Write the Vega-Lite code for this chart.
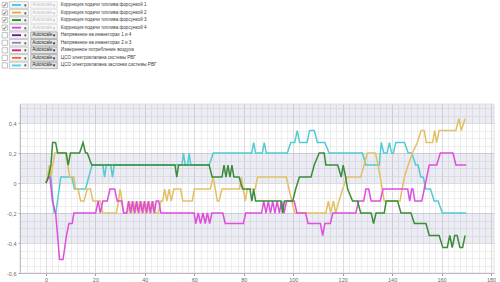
{
  "$schema": "https://vega.github.io/schema/vega-lite/v6.json",
  "padding": 0,
  "background": "white",
  "spacing": 7,
  "config": {"font": "Liberation Sans", "view": {"stroke": null}},
  "datasets": {
    "legend": [
      {"row": 1, "label": "Коррекция подачи топлива форсункой 1", "color": "#3fc4dc", "on": true},
      {"row": 2, "label": "Коррекция подачи топлива форсункой 2", "color": "#f2a53a", "on": true},
      {"row": 3, "label": "Коррекция подачи топлива форсункой 3", "color": "#1f8a1f", "on": true},
      {"row": 4, "label": "Коррекция подачи топлива форсункой 4", "color": "#d63ee6", "on": true},
      {"row": 5, "label": "Напряжение на инжекторах 1 и 4", "color": "#5a1e8c", "on": false},
      {"row": 6, "label": "Напряжение на инжекторах 2 и 3", "color": "#8f80c4", "on": false},
      {"row": 7, "label": "Измеренное потребление воздуха", "color": "#d0207a", "on": false},
      {"row": 8, "label": "ЦСО электроклапана системы РВГ", "color": "#ee6a24", "on": false},
      {"row": 9, "label": "ЦСО электроклапана заслонки системы РВГ", "color": "#4cd6ee", "on": false}
    ],
    "lines": [
      {"s":1,"x":0,"v":0},{"s":1,"x":1,"v":0.04},{"s":1,"x":2,"v":0.04},{"s":1,"x":3.3,"v":-0.2},{"s":1,"x":4,"v":-0.2},{"s":1,"x":6,"v":0.04},{"s":1,"x":10.5,"v":0.04},{"s":1,"x":11.5,"v":-0.04},{"s":1,"x":16,"v":-0.04},{"s":1,"x":17.3,"v":0.04},{"s":1,"x":18.7,"v":0.12},{"s":1,"x":23,"v":0.12},{"s":1,"x":23.7,"v":0.04},{"s":1,"x":24.4,"v":0.12},{"s":1,"x":26.2,"v":0.12},{"s":1,"x":26.9,"v":0.04},{"s":1,"x":27.6,"v":0.12},{"s":1,"x":55,"v":0.12},{"s":1,"x":55.6,"v":0.2},{"s":1,"x":56.3,"v":0.12},{"s":1,"x":57.3,"v":0.12},{"s":1,"x":57.9,"v":0.2},{"s":1,"x":58.6,"v":0.12},{"s":1,"x":66,"v":0.12},{"s":1,"x":67.7,"v":0.2},{"s":1,"x":83.2,"v":0.2},{"s":1,"x":84,"v":0.27},{"s":1,"x":84.8,"v":0.2},{"s":1,"x":87.5,"v":0.2},{"s":1,"x":88.3,"v":0.27},{"s":1,"x":89.1,"v":0.2},{"s":1,"x":97.6,"v":0.2},{"s":1,"x":99,"v":0.27},{"s":1,"x":100.6,"v":0.27},{"s":1,"x":101.6,"v":0.35},{"s":1,"x":102.6,"v":0.27},{"s":1,"x":105.6,"v":0.27},{"s":1,"x":106.6,"v":0.35},{"s":1,"x":108.5,"v":0.35},{"s":1,"x":109.8,"v":0.27},{"s":1,"x":112.8,"v":0.27},{"s":1,"x":114.5,"v":0.2},{"s":1,"x":128,"v":0.2},{"s":1,"x":129.4,"v":0.12},{"s":1,"x":134.8,"v":0.12},{"s":1,"x":135.6,"v":0.27},{"s":1,"x":136.6,"v":0.2},{"s":1,"x":138,"v":0.2},{"s":1,"x":138.9,"v":0.27},{"s":1,"x":139.8,"v":0.2},{"s":1,"x":140.5,"v":0.2},{"s":1,"x":141.5,"v":0.27},{"s":1,"x":145,"v":0.27},{"s":1,"x":146.5,"v":0.2},{"s":1,"x":148,"v":0.2},{"s":1,"x":149.5,"v":0.12},{"s":1,"x":150.5,"v":0.12},{"s":1,"x":151.6,"v":0.04},{"s":1,"x":152.6,"v":0.04},{"s":1,"x":153.6,"v":-0.04},{"s":1,"x":155.5,"v":-0.04},{"s":1,"x":157,"v":-0.12},{"s":1,"x":158.6,"v":-0.12},{"s":1,"x":160.3,"v":-0.2},{"s":1,"x":170,"v":-0.2},
      {"s":2,"x":0,"v":0},{"s":2,"x":0.7,"v":0.04},{"s":2,"x":1.3,"v":0.12},{"s":2,"x":2,"v":0.04},{"s":2,"x":2.8,"v":0.12},{"s":2,"x":3.6,"v":0.2},{"s":2,"x":8,"v":0.2},{"s":2,"x":9.6,"v":0.04},{"s":2,"x":11.3,"v":0.04},{"s":2,"x":12,"v":-0.04},{"s":2,"x":13,"v":-0.04},{"s":2,"x":14,"v":-0.12},{"s":2,"x":15.4,"v":-0.12},{"s":2,"x":16.7,"v":-0.04},{"s":2,"x":18,"v":-0.04},{"s":2,"x":19,"v":-0.12},{"s":2,"x":22,"v":-0.12},{"s":2,"x":23,"v":-0.2},{"s":2,"x":28.5,"v":-0.2},{"s":2,"x":29.3,"v":-0.12},{"s":2,"x":30,"v":-0.04},{"s":2,"x":30.8,"v":-0.12},{"s":2,"x":31.5,"v":-0.2},{"s":2,"x":33,"v":-0.2},{"s":2,"x":33.8,"v":-0.12},{"s":2,"x":34.6,"v":-0.2},{"s":2,"x":35.4,"v":-0.12},{"s":2,"x":36.2,"v":-0.2},{"s":2,"x":37,"v":-0.12},{"s":2,"x":37.8,"v":-0.2},{"s":2,"x":38.6,"v":-0.12},{"s":2,"x":39.4,"v":-0.2},{"s":2,"x":40.2,"v":-0.12},{"s":2,"x":41,"v":-0.2},{"s":2,"x":41.8,"v":-0.12},{"s":2,"x":42.6,"v":-0.2},{"s":2,"x":43.4,"v":-0.12},{"s":2,"x":44.2,"v":-0.2},{"s":2,"x":45.5,"v":-0.2},{"s":2,"x":46.5,"v":-0.12},{"s":2,"x":47.2,"v":-0.12},{"s":2,"x":48,"v":-0.04},{"s":2,"x":48.9,"v":-0.12},{"s":2,"x":49.8,"v":-0.04},{"s":2,"x":50.7,"v":-0.12},{"s":2,"x":51.7,"v":-0.04},{"s":2,"x":54.5,"v":-0.04},{"s":2,"x":55.3,"v":-0.12},{"s":2,"x":59.2,"v":-0.12},{"s":2,"x":60,"v":-0.04},{"s":2,"x":66.5,"v":-0.04},{"s":2,"x":67.6,"v":0.04},{"s":2,"x":68.5,"v":-0.04},{"s":2,"x":69.3,"v":-0.12},{"s":2,"x":70,"v":-0.12},{"s":2,"x":71.2,"v":-0.04},{"s":2,"x":78.3,"v":-0.04},{"s":2,"x":79,"v":0.04},{"s":2,"x":79.8,"v":-0.04},{"s":2,"x":80.6,"v":-0.12},{"s":2,"x":81.4,"v":-0.04},{"s":2,"x":84.6,"v":-0.04},{"s":2,"x":85.6,"v":0.04},{"s":2,"x":97.2,"v":0.04},{"s":2,"x":98.3,"v":-0.04},{"s":2,"x":99.4,"v":-0.12},{"s":2,"x":100.6,"v":-0.2},{"s":2,"x":113.2,"v":-0.2},{"s":2,"x":114.2,"v":-0.12},{"s":2,"x":115.1,"v":-0.2},{"s":2,"x":116.3,"v":-0.12},{"s":2,"x":117.2,"v":-0.2},{"s":2,"x":118.5,"v":-0.12},{"s":2,"x":120,"v":-0.04},{"s":2,"x":121.7,"v":0.04},{"s":2,"x":127.3,"v":0.04},{"s":2,"x":128.7,"v":0.12},{"s":2,"x":130,"v":0.2},{"s":2,"x":133.3,"v":0.2},{"s":2,"x":134.3,"v":0.12},{"s":2,"x":135.2,"v":0.04},{"s":2,"x":136,"v":-0.04},{"s":2,"x":136.8,"v":-0.12},{"s":2,"x":143.2,"v":-0.12},{"s":2,"x":144,"v":-0.04},{"s":2,"x":145,"v":0.04},{"s":2,"x":146.5,"v":0.12},{"s":2,"x":148.2,"v":0.2},{"s":2,"x":150.2,"v":0.27},{"s":2,"x":151.7,"v":0.35},{"s":2,"x":153,"v":0.35},{"s":2,"x":153.8,"v":0.27},{"s":2,"x":156.4,"v":0.27},{"s":2,"x":157.2,"v":0.35},{"s":2,"x":158,"v":0.27},{"s":2,"x":159,"v":0.35},{"s":2,"x":165.8,"v":0.35},{"s":2,"x":167,"v":0.43},{"s":2,"x":168,"v":0.35},{"s":2,"x":169.5,"v":0.43},
      {"s":4,"x":0,"v":0},{"s":4,"x":1,"v":0.04},{"s":4,"x":1.6,"v":0.04},{"s":4,"x":2.6,"v":-0.12},{"s":4,"x":3.9,"v":-0.2},{"s":4,"x":4.7,"v":-0.35},{"s":4,"x":5.5,"v":-0.51},{"s":4,"x":6.9,"v":-0.51},{"s":4,"x":8.3,"v":-0.35},{"s":4,"x":9.3,"v":-0.27},{"s":4,"x":10.6,"v":-0.27},{"s":4,"x":11.3,"v":-0.2},{"s":4,"x":20.1,"v":-0.2},{"s":4,"x":21.1,"v":-0.12},{"s":4,"x":22,"v":-0.2},{"s":4,"x":23,"v":-0.12},{"s":4,"x":24.8,"v":-0.12},{"s":4,"x":25.9,"v":-0.04},{"s":4,"x":27.8,"v":-0.04},{"s":4,"x":28.8,"v":-0.12},{"s":4,"x":30.6,"v":-0.12},{"s":4,"x":31.4,"v":-0.2},{"s":4,"x":32.6,"v":-0.2},{"s":4,"x":33.4,"v":-0.12},{"s":4,"x":34.2,"v":-0.2},{"s":4,"x":35,"v":-0.12},{"s":4,"x":35.8,"v":-0.2},{"s":4,"x":36.6,"v":-0.12},{"s":4,"x":37.4,"v":-0.2},{"s":4,"x":38.2,"v":-0.12},{"s":4,"x":39,"v":-0.2},{"s":4,"x":39.8,"v":-0.12},{"s":4,"x":40.6,"v":-0.2},{"s":4,"x":41.4,"v":-0.12},{"s":4,"x":42.2,"v":-0.2},{"s":4,"x":43,"v":-0.12},{"s":4,"x":43.8,"v":-0.2},{"s":4,"x":44.6,"v":-0.12},{"s":4,"x":45.6,"v":-0.12},{"s":4,"x":46.5,"v":-0.2},{"s":4,"x":59.9,"v":-0.2},{"s":4,"x":60.6,"v":-0.27},{"s":4,"x":61.6,"v":-0.2},{"s":4,"x":62.5,"v":-0.27},{"s":4,"x":63.5,"v":-0.2},{"s":4,"x":64.4,"v":-0.27},{"s":4,"x":65.3,"v":-0.2},{"s":4,"x":66.2,"v":-0.27},{"s":4,"x":67.1,"v":-0.2},{"s":4,"x":71.5,"v":-0.2},{"s":4,"x":72.5,"v":-0.27},{"s":4,"x":79.8,"v":-0.27},{"s":4,"x":80.8,"v":-0.2},{"s":4,"x":87.2,"v":-0.2},{"s":4,"x":88.1,"v":-0.12},{"s":4,"x":89,"v":-0.2},{"s":4,"x":89.9,"v":-0.12},{"s":4,"x":90.8,"v":-0.2},{"s":4,"x":91.7,"v":-0.12},{"s":4,"x":92.6,"v":-0.2},{"s":4,"x":93.5,"v":-0.12},{"s":4,"x":94.4,"v":-0.2},{"s":4,"x":95.3,"v":-0.12},{"s":4,"x":96.3,"v":-0.2},{"s":4,"x":97.3,"v":-0.12},{"s":4,"x":100.4,"v":-0.12},{"s":4,"x":101.5,"v":-0.2},{"s":4,"x":105,"v":-0.2},{"s":4,"x":106,"v":-0.27},{"s":4,"x":111,"v":-0.27},{"s":4,"x":111.9,"v":-0.35},{"s":4,"x":112.8,"v":-0.27},{"s":4,"x":115,"v":-0.27},{"s":4,"x":116,"v":-0.2},{"s":4,"x":125.3,"v":-0.2},{"s":4,"x":126.5,"v":-0.12},{"s":4,"x":128.5,"v":-0.12},{"s":4,"x":129.4,"v":-0.04},{"s":4,"x":130.5,"v":-0.04},{"s":4,"x":131.5,"v":-0.12},{"s":4,"x":135.2,"v":-0.12},{"s":4,"x":136.3,"v":-0.04},{"s":4,"x":146.3,"v":-0.04},{"s":4,"x":147.1,"v":-0.12},{"s":4,"x":147.9,"v":-0.04},{"s":4,"x":148.4,"v":-0.04},{"s":4,"x":149.2,"v":-0.12},{"s":4,"x":152,"v":-0.12},{"s":4,"x":153,"v":-0.04},{"s":4,"x":154,"v":0.04},{"s":4,"x":155,"v":0.12},{"s":4,"x":158,"v":0.12},{"s":4,"x":159.5,"v":0.2},{"s":4,"x":164.6,"v":0.2},{"s":4,"x":165.8,"v":0.12},{"s":4,"x":170,"v":0.12},
      {"s":3,"x":0,"v":0},{"s":3,"x":1,"v":0.04},{"s":3,"x":2,"v":0.12},{"s":3,"x":2.7,"v":0.27},{"s":3,"x":3.9,"v":0.27},{"s":3,"x":4.7,"v":0.2},{"s":3,"x":8.2,"v":0.2},{"s":3,"x":9,"v":0.12},{"s":3,"x":9.9,"v":0.2},{"s":3,"x":13.6,"v":0.2},{"s":3,"x":15,"v":0.27},{"s":3,"x":16,"v":0.2},{"s":3,"x":16.7,"v":0.2},{"s":3,"x":18.5,"v":0.12},{"s":3,"x":52.2,"v":0.12},{"s":3,"x":52.9,"v":0.04},{"s":3,"x":53.6,"v":0.12},{"s":3,"x":66,"v":0.12},{"s":3,"x":67.2,"v":0.04},{"s":3,"x":71.2,"v":0.04},{"s":3,"x":72,"v":0.12},{"s":3,"x":72.8,"v":0.04},{"s":3,"x":73.6,"v":0.12},{"s":3,"x":74.4,"v":0.04},{"s":3,"x":75.2,"v":0.12},{"s":3,"x":76,"v":0.04},{"s":3,"x":78.1,"v":0.04},{"s":3,"x":79.5,"v":-0.04},{"s":3,"x":82.5,"v":-0.04},{"s":3,"x":83.3,"v":-0.12},{"s":3,"x":84,"v":-0.04},{"s":3,"x":84.8,"v":-0.12},{"s":3,"x":95,"v":-0.12},{"s":3,"x":95.7,"v":-0.2},{"s":3,"x":96.4,"v":-0.12},{"s":3,"x":99.8,"v":-0.12},{"s":3,"x":101,"v":-0.04},{"s":3,"x":102.5,"v":0.04},{"s":3,"x":107.2,"v":0.04},{"s":3,"x":108.5,"v":0.12},{"s":3,"x":110.5,"v":0.2},{"s":3,"x":112.5,"v":0.2},{"s":3,"x":113.2,"v":0.12},{"s":3,"x":118,"v":0.12},{"s":3,"x":119.4,"v":0.04},{"s":3,"x":120.2,"v":0.12},{"s":3,"x":121.2,"v":0.04},{"s":3,"x":122,"v":-0.04},{"s":3,"x":124,"v":-0.12},{"s":3,"x":126,"v":-0.12},{"s":3,"x":127.3,"v":-0.2},{"s":3,"x":131.5,"v":-0.2},{"s":3,"x":132.5,"v":-0.27},{"s":3,"x":133.5,"v":-0.2},{"s":3,"x":136.8,"v":-0.2},{"s":3,"x":137.6,"v":-0.12},{"s":3,"x":142.2,"v":-0.12},{"s":3,"x":143.6,"v":-0.2},{"s":3,"x":147.6,"v":-0.2},{"s":3,"x":149,"v":-0.27},{"s":3,"x":153.7,"v":-0.27},{"s":3,"x":155,"v":-0.35},{"s":3,"x":159,"v":-0.35},{"s":3,"x":160.5,"v":-0.43},{"s":3,"x":162.3,"v":-0.43},{"s":3,"x":163.3,"v":-0.35},{"s":3,"x":164.3,"v":-0.43},{"s":3,"x":165.3,"v":-0.35},{"s":3,"x":166.3,"v":-0.35},{"s":3,"x":167.4,"v":-0.43},{"s":3,"x":168.5,"v":-0.43},{"s":3,"x":169.5,"v":-0.35}
    ]
  },
  "vconcat": [
    {
      "width": 474,
      "height": 96,
      "data": {"name": "legend"},
      "encoding": {
        "y": {"field": "row", "type": "quantitative", "scale": {"domain": [0.338, 13.05], "nice": false, "zero": false, "reverse": true}, "axis": null}
      },
      "layer": [
        {
          "mark": {"type": "square", "size": 28, "filled": true, "fill": "#fcfcfc", "stroke": "#9a9a9a", "strokeWidth": 0.6, "opacity": 1},
          "encoding": {"x": {"datum": 5.8, "type": "quantitative", "scale": {"domain": [21, 495], "nice": false, "zero": false}, "axis": null}}
        },
        {
          "transform": [{"filter": "datum.on"}],
          "mark": {"type": "text", "text": "✓", "fontSize": 6, "fill": "#2a2a2a", "fontWeight": "bold", "baseline": "middle", "align": "center", "font": "DejaVu Sans"},
          "encoding": {"x": {"datum": 6, "type": "quantitative", "scale": {"domain": [21, 495], "nice": false, "zero": false}, "axis": null}}
        },
        {
          "mark": {"type": "tick", "orient": "horizontal", "size": 19, "thickness": 6.5, "fill": "#f7f7f7", "stroke": "#ababab", "strokeWidth": 0.6, "opacity": 1},
          "encoding": {"x": {"datum": 19.8, "type": "quantitative", "scale": {"domain": [21, 495], "nice": false, "zero": false}, "axis": null}}
        },
        {
          "mark": {"type": "tick", "orient": "horizontal", "size": 9, "thickness": 1.8, "opacity": 1},
          "encoding": {
            "x": {"datum": 17.5, "type": "quantitative", "scale": {"domain": [21, 495], "nice": false, "zero": false}, "axis": null},
            "color": {"field": "color", "type": "nominal", "scale": null}
          }
        },
        {
          "mark": {"type": "text", "text": "▾", "fontSize": 5, "fill": "#444", "baseline": "middle", "align": "center", "font": "DejaVu Sans"},
          "encoding": {"x": {"datum": 26.3, "type": "quantitative", "scale": {"domain": [21, 495], "nice": false, "zero": false}, "axis": null}}
        },
        {
          "mark": {"type": "tick", "orient": "horizontal", "size": 26.5, "thickness": 6.5, "strokeWidth": 0.6, "opacity": 1},
          "encoding": {
            "x": {"datum": 45, "type": "quantitative", "scale": {"domain": [21, 495], "nice": false, "zero": false}, "axis": null},
            "fill": {"condition": {"test": "datum.on", "value": "#fafafa"}, "value": "#e6e6e6"},
            "stroke": {"condition": {"test": "datum.on", "value": "#d4d4d4"}, "value": "#8c8c8c"}
          }
        },
        {
          "mark": {"type": "text", "text": "Autoscale", "fontSize": 4.6, "baseline": "middle", "align": "left"},
          "encoding": {
            "x": {"datum": 33.2, "type": "quantitative", "scale": {"domain": [21, 495], "nice": false, "zero": false}, "axis": null},
            "color": {"condition": {"test": "datum.on", "value": "#c2c2c2"}, "value": "#1e1e1e"}
          }
        },
        {
          "mark": {"type": "text", "text": "▾", "fontSize": 5, "baseline": "middle", "align": "center", "font": "DejaVu Sans"},
          "encoding": {
            "x": {"datum": 55, "type": "quantitative", "scale": {"domain": [21, 495], "nice": false, "zero": false}, "axis": null},
            "color": {"condition": {"test": "datum.on", "value": "#c2c2c2"}, "value": "#1e1e1e"}
          }
        },
        {
          "mark": {"type": "text", "fontSize": 4.6, "baseline": "middle", "align": "left", "fill": "#3a3a3a"},
          "encoding": {
            "x": {"datum": 61.8, "type": "quantitative", "scale": {"domain": [21, 495], "nice": false, "zero": false}, "axis": null},
            "text": {"field": "label"}
          }
        },
        {
          "data": {"values": [{}]},
          "mark": {"type": "tick", "orient": "horizontal", "size": 48.5, "thickness": 8.3, "fill": "#efefef", "stroke": "#a3a3a3", "strokeWidth": 0.6, "opacity": 1},
          "encoding": {
            "x": {"datum": 27.5, "type": "quantitative", "scale": {"domain": [21, 495], "nice": false, "zero": false}, "axis": null},
            "y": {"datum": 10.38, "type": "quantitative", "scale": {"domain": [0.338, 13.05], "nice": false, "zero": false, "reverse": true}, "axis": null}
          }
        },
        {
          "data": {"values": [{}]},
          "mark": {"type": "text", "text": "Сбросить", "fontSize": 5, "baseline": "middle", "align": "center", "fill": "#333"},
          "encoding": {
            "x": {"datum": 27.5, "type": "quantitative", "scale": {"domain": [21, 495], "nice": false, "zero": false}, "axis": null},
            "y": {"datum": 10.38, "type": "quantitative", "scale": {"domain": [0.338, 13.05], "nice": false, "zero": false, "reverse": true}, "axis": null}
          }
        },
        {
          "data": {"values": [{}]},
          "mark": {"type": "tick", "orient": "horizontal", "size": 48.5, "thickness": 8.3, "fill": "#efefef", "stroke": "#a3a3a3", "strokeWidth": 0.6, "opacity": 1},
          "encoding": {
            "x": {"datum": 27.5, "type": "quantitative", "scale": {"domain": [21, 495], "nice": false, "zero": false}, "axis": null},
            "y": {"datum": 11.93, "type": "quantitative", "scale": {"domain": [0.338, 13.05], "nice": false, "zero": false, "reverse": true}, "axis": null}
          }
        },
        {
          "data": {"values": [{}]},
          "mark": {"type": "text", "text": "Cascade", "fontSize": 5, "baseline": "middle", "align": "center", "fill": "#333"},
          "encoding": {
            "x": {"datum": 27.5, "type": "quantitative", "scale": {"domain": [21, 495], "nice": false, "zero": false}, "axis": null},
            "y": {"datum": 11.93, "type": "quantitative", "scale": {"domain": [0.338, 13.05], "nice": false, "zero": false, "reverse": true}, "axis": null}
          }
        },
        {
          "data": {"values": [{}]},
          "mark": {"type": "rule", "stroke": "#d6d6d6", "strokeWidth": 2},
          "encoding": {
            "x": {"datum": 0, "type": "quantitative", "scale": {"domain": [21, 495], "nice": false, "zero": false}, "axis": null},
            "x2": {"datum": 500},
            "y": {"datum": 12.85, "type": "quantitative", "scale": {"domain": [0.338, 13.05], "nice": false, "zero": false, "reverse": true}, "axis": null}
          }
        }
      ]
    },
    {
      "width": 474,
      "height": 169,
      "resolve": {"axis": {"x": "independent", "y": "independent"}},
      "layer": [
        {
          "data": {"values": [{}]},
          "mark": {"type": "rect", "fill": "#7070a8", "opacity": 0.13},
          "encoding": {
            "x": {
              "datum": -10.5, "type": "quantitative",
              "scale": {"domain": [-10.5, 181.2], "nice": false, "zero": false},
              "axis": {
                "orient": "bottom", "title": null,
                "values": [-7.5,-5,-2.5,2.5,5,7.5,10,12.5,15,17.5,22.5,25,27.5,30,32.5,35,37.5,42.5,45,47.5,50,52.5,55,57.5,62.5,65,67.5,70,72.5,75,77.5,82.5,85,87.5,90,92.5,95,97.5,102.5,105,107.5,110,112.5,115,117.5,122.5,125,127.5,130,132.5,135,137.5,142.5,145,147.5,150,152.5,155,157.5,162.5,165,167.5,170,172.5,175,177.5],
                "grid": true, "gridColor": "#e8e8e8", "gridWidth": 0.8,
                "labels": false, "ticks": false, "domain": false
              }
            },
            "x2": {"datum": 181.2},
            "y": {
              "datum": 0.4, "type": "quantitative",
              "scale": {"domain": [-0.6, 0.527], "nice": false, "zero": false},
              "axis": {
                "orient": "left", "title": null,
                "values": [-0.55,-0.5,-0.45,-0.35,-0.3,-0.25,-0.15,-0.1,-0.05,0.05,0.1,0.15,0.25,0.3,0.35,0.45,0.5],
                "grid": true, "gridColor": "#e8e8e8", "gridWidth": 0.8,
                "labels": false, "ticks": false, "domain": false
              }
            },
            "y2": {"datum": 0.527}
          }
        },
        {
          "data": {"values": [{}]},
          "mark": {"type": "rect", "fill": "#7070a8", "opacity": 0.13},
          "encoding": {
            "x": {"datum": -10.5, "type": "quantitative", "scale": {"domain": [-10.5, 181.2], "nice": false, "zero": false}, "axis": null},
            "x2": {"datum": 181.2},
            "y": {"datum": 0, "type": "quantitative", "scale": {"domain": [-0.6, 0.527], "nice": false, "zero": false}, "axis": null},
            "y2": {"datum": 0.2}
          }
        },
        {
          "data": {"values": [{}]},
          "mark": {"type": "rect", "fill": "#7070a8", "opacity": 0.13},
          "encoding": {
            "x": {"datum": -10.5, "type": "quantitative", "scale": {"domain": [-10.5, 181.2], "nice": false, "zero": false}, "axis": null},
            "x2": {"datum": 181.2},
            "y": {"datum": -0.4, "type": "quantitative", "scale": {"domain": [-0.6, 0.527], "nice": false, "zero": false}, "axis": null},
            "y2": {"datum": -0.2}
          }
        },
        {
          "data": {"values": [{}]},
          "mark": {"type": "rect", "fill": null, "stroke": "#d8d8d8", "strokeWidth": 0.8},
          "encoding": {
            "x": {"datum": -10.5, "type": "quantitative", "scale": {"domain": [-10.5, 181.2], "nice": false, "zero": false}, "axis": null},
            "x2": {"datum": 181.2},
            "y": {"datum": -0.6, "type": "quantitative", "scale": {"domain": [-0.6, 0.527], "nice": false, "zero": false}, "axis": null},
            "y2": {"datum": 0.527}
          }
        },
        {
          "data": {"name": "lines"},
          "mark": {"type": "line", "strokeWidth": 1.5, "clip": true},
          "encoding": {
            "x": {
              "field": "x", "type": "quantitative",
              "scale": {"domain": [-10.5, 181.2], "nice": false, "zero": false},
              "axis": {
                "orient": "bottom", "title": null,
                "values": [0, 20, 40, 60, 80, 100, 120, 140, 160, 180],
                "grid": true, "gridColor": "#d2d2d2", "gridWidth": 0.8,
                "labelFontSize": 5.5, "labelColor": "#6a6a6a", "labelPadding": 1.5,
                "labelOverlap": false, "labelFlush": false, "labelBound": false,
                "tickSize": 2.5, "tickColor": "#9a9a9a",
                "domainColor": "#9a9a9a", "domainWidth": 0.8
              }
            },
            "y": {
              "field": "v", "type": "quantitative",
              "scale": {"domain": [-0.6, 0.527], "nice": false, "zero": false},
              "axis": {
                "orient": "left", "title": null,
                "values": [-0.6, -0.4, -0.2, 0, 0.2, 0.4],
                "grid": true, "gridColor": "#d2d2d2", "gridWidth": 0.8,
                "labelExpr": "replace(replace(format(datum.value, '.1~f'), '.', ','), '−', '-')",
                "labelFontSize": 5.5, "labelColor": "#6a6a6a", "labelPadding": 2,
                "labelOverlap": false, "labelFlush": false, "labelBound": false,
                "tickSize": 2, "tickColor": "#9a9a9a",
                "domainColor": "#9a9a9a", "domainWidth": 0.8
              }
            },
            "color": {
              "field": "s", "type": "nominal",
              "scale": {"domain": [1, 2, 3, 4], "range": ["#52ccd2", "#e2c165", "#3b8c3b", "#df4edf"]},
              "legend": null
            }
          }
        }
      ]
    }
  ]
}
